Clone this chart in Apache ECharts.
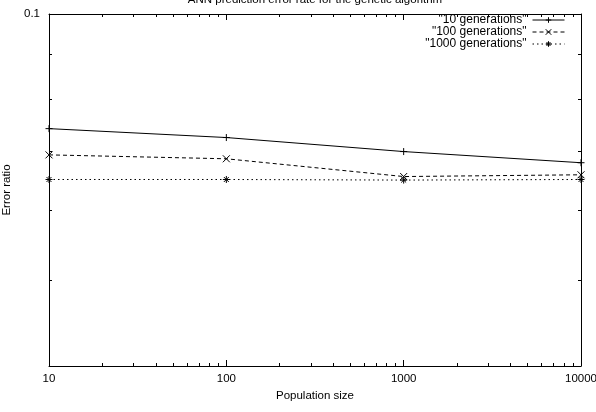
<!DOCTYPE html>
<html>
<head>
<meta charset="utf-8">
<script src="https://cdn.jsdelivr.net/npm/echarts@6/dist/echarts.min.js"></script>
<style>
    html, body {
        margin: 0;
        padding: 0;
        background: #fff;
    }

    #chart {
        width: 596px;
        height: 412px;
    }
</style>
</head>
<body>
<div id="chart"></div>
<script>
    // 数据
    var popSizes = [10, 100, 1000, 10000];
    var gen10 = [0.0742, 0.0725, 0.0699, 0.0679];
    var gen100 = [0.0693, 0.0686, 0.0655, 0.0658];
    var gen1000 = [0.0650, 0.0650, 0.0649, 0.0650];

    // 刻度
    var xMajorTicks = [10, 100, 1000, 10000];
    var xMinorTicks = [20, 30, 40, 50, 60, 70, 80, 90,
        200, 300, 400, 500, 600, 700, 800, 900,
        2000, 3000, 4000, 5000, 6000, 7000, 8000, 9000];
    var yTicks = [0.04, 0.05, 0.06, 0.07, 0.08, 0.09];
    var yLabels = [0.1];

    var font = 'Liberation Sans, Arial, sans-serif';
    var fs = 11.5;
    var plusPath = 'path://M0,5L10,5M5,0L5,10';
    var crossPath = 'path://M0,0L10,10M10,0L0,10';
    var starPath = 'path://M0,5L10,5M5,0L5,10M1.5,1.5L8.5,8.5M8.5,1.5L1.5,8.5';

    function toPairs(ys) {
        var out = [];
        for (var i = 0; i < popSizes.length; i++) {
            out.push([popSizes[i], ys[i]]);
        }
        return out;
    }

    function xAxisDef(pos, ticks, len, showLabel, showLine) {
        return {
            type: 'log',
            position: pos,
            min: 10,
            max: 10000,
            gridIndex: 0,
            axisLine: {
                show: showLine,
                onZero: false,
                lineStyle: { color: '#000', width: 1 }
            },
            axisTick: {
                show: true,
                inside: true,
                length: len,
                customValues: ticks,
                lineStyle: { color: '#000', width: 1 }
            },
            axisLabel: {
                show: showLabel,
                customValues: xMajorTicks,
                formatter: function(v) { return String(v); },
                color: '#000',
                fontFamily: font,
                fontSize: fs,
                margin: 7
            },
            splitLine: { show: false },
            minorTick: { show: false }
        };
    }

    function yAxisDef(pos, showLabel) {
        return {
            type: 'log',
            position: pos,
            min: 0.04,
            max: 0.1,
            axisLine: {
                show: true,
                lineStyle: { color: '#000', width: 1 }
            },
            axisTick: {
                show: true,
                inside: true,
                length: 3,
                customValues: yTicks,
                lineStyle: { color: '#000', width: 1 }
            },
            axisLabel: {
                show: showLabel,
                customValues: yLabels,
                formatter: function(v) { return String(v); },
                color: '#000',
                fontFamily: font,
                fontSize: fs,
                margin: 9
            },
            splitLine: { show: false }
        };
    }

    var xBottom = xAxisDef('bottom', xMajorTicks, 6, true, true);
    xBottom.name = 'Population size';
    xBottom.nameLocation = 'middle';
    xBottom.nameGap = 20;
    xBottom.nameTextStyle = { color: '#000', fontFamily: font, fontSize: fs };

    var yLeft = yAxisDef('left', true);
    yLeft.name = 'Error ratio';
    yLeft.nameLocation = 'middle';
    yLeft.nameRotate = 90;
    yLeft.nameGap = 30;
    yLeft.nameTextStyle = { color: '#000', fontFamily: font, fontSize: fs };

    function lineSeries(name, data, symbol, dash) {
        return {
            name: name,
            type: 'line',
            xAxisIndex: 0,
            yAxisIndex: 0,
            data: toPairs(data),
            symbol: symbol,
            symbolSize: 7,
            showAllSymbol: true,
            animation: false,
            lineStyle: { color: '#000', width: 1, type: dash },
            itemStyle: { color: 'none', borderColor: '#000', borderWidth: 1 }
        };
    }

    var myChart = echarts.init(document.getElementById('chart'), null, { renderer: 'canvas' });
    var option = {
        backgroundColor: '#fff',
        animation: false,
        title: {
            text: 'ANN prediction error rate for the genetic algorithm',
            left: 315,
            textAlign: 'center',
            top: -6,
            padding: 0,
            textStyle: {
                color: '#000',
                fontFamily: font,
                fontSize: fs,
                fontWeight: 'normal'
            }
        },
        grid: {
            left: 49,
            right: 15,
            top: 14,
            bottom: 46,
            containLabel: false,
            outerBoundsMode: 'none'
        },
        legend: {
            orient: 'vertical',
            right: 31,
            top: 14,
            padding: 0,
            align: 'right',
            itemGap: 0,
            itemWidth: 32,
            itemHeight: 7,
            lineStyle: { width: 1 },
            itemStyle: { borderWidth: 1 },
            textStyle: { color: '#000', fontFamily: font, fontSize: 12, lineHeight: 11.5, padding: [0, 1, 0, 0] },
            data: ['"10 generations"', '"100 generations"', '"1000 generations"']
        },
        xAxis: [
            xBottom,
            xAxisDef('bottom', xMinorTicks, 3, false, false),
            xAxisDef('top', xMajorTicks, 6, false, true),
            xAxisDef('top', xMinorTicks, 3, false, false)
        ],
        yAxis: [
            yLeft,
            yAxisDef('right', false)
        ],
        series: [
            lineSeries('"10 generations"', gen10, plusPath, 'solid'),
            lineSeries('"100 generations"', gen100, crossPath, [4, 3]),
            lineSeries('"1000 generations"', gen1000, starPath, [1.5, 3])
        ]
    };
    myChart.setOption(option);

    window.onresize = function() {
        myChart.resize();
    };
</script>
</body>
</html>
